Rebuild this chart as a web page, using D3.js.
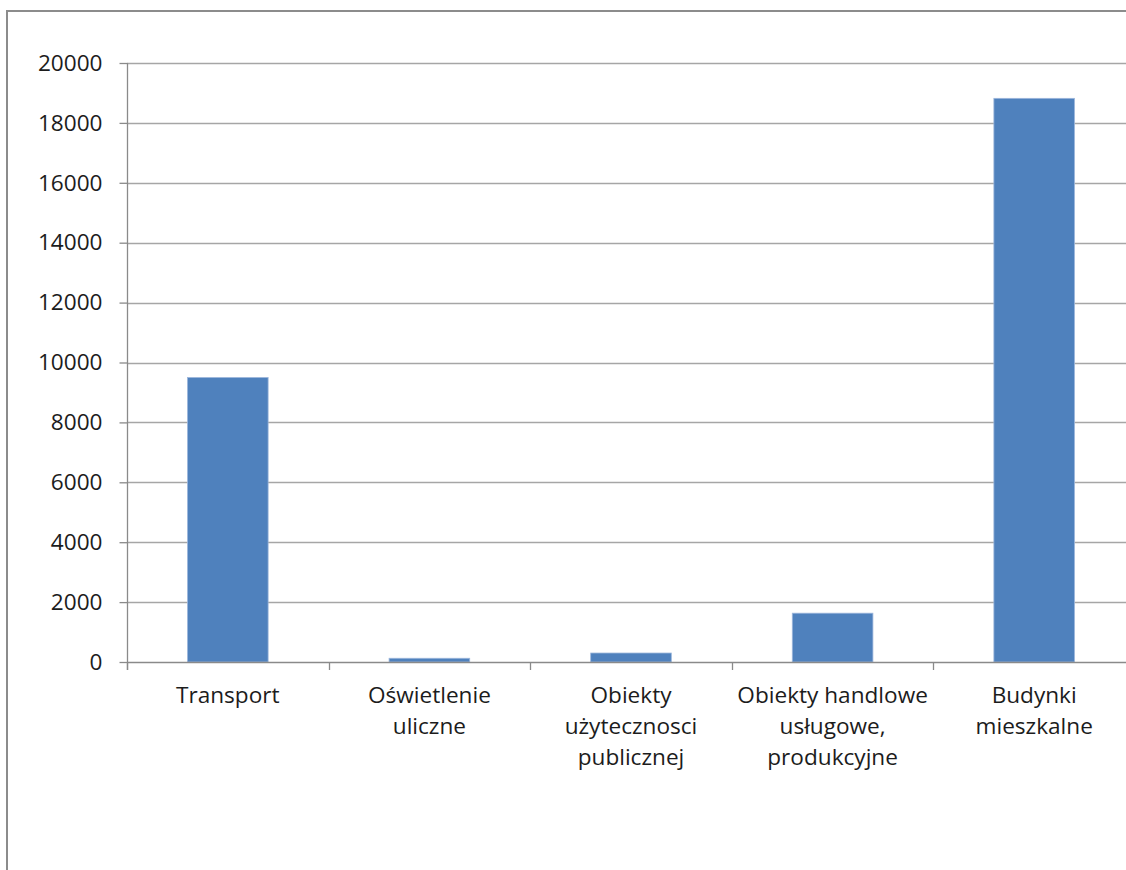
<!DOCTYPE html>
<html>
<head>
<meta charset="utf-8">
<script src="https://cdn.jsdelivr.net/npm/d3@7"></script>
<style>
  html, body { margin: 0; padding: 0; background: #fff; overflow: hidden; }
  svg { display: block; }
  text { font-family: "Open Sans", "Liberation Sans", sans-serif; fill: #1c1c1c; }
</style>
</head>
<body>
<svg id="chart" width="1126" height="870"></svg>
<script>
// Category labels, one entry per wrapped line
const categoryLines = [
  ["Transport"],
  ["Oświetlenie", "uliczne"],
  ["Obiekty", "użytecznosci", "publicznej"],
  ["Obiekty handlowe", "usługowe,", "produkcyjne"],
  ["Budynki", "mieszkalne"]
];
const categories = categoryLines.map(l => l.join(" "));
const values = [9500, 125, 300, 1630, 18820];
const yTicks = [0, 2000, 4000, 6000, 8000, 10000, 12000, 14000, 16000, 18000, 20000];

const svg = d3.select("#chart");
const fontSize = 22.6;

// Chart area frame
svg.append("rect")
  .attr("x", 7).attr("y", 11)
  .attr("width", 1200).attr("height", 900)
  .attr("fill", "#fff")
  .attr("stroke", "#8c8c8c")
  .attr("stroke-width", 2);

const plotLeft = 127, plotRight = 1135, plotTop = 63, plotBottom = 662;

const x = d3.scaleBand()
  .domain(categories)
  .range([plotLeft, plotRight])
  .paddingInner(0.6)
  .paddingOuter(0.3);

const y = d3.scaleLinear()
  .domain([0, 20000])
  .range([plotBottom, plotTop]);

// Horizontal gridlines
svg.append("g")
  .selectAll("line")
  .data(yTicks.filter(t => t > 0))
  .join("line")
  .attr("x1", plotLeft).attr("x2", plotRight)
  .attr("y1", d => Math.round(y(d)) + 0.5)
  .attr("y2", d => Math.round(y(d)) + 0.5)
  .attr("stroke", "#a6a6a6")
  .attr("stroke-width", 1.3);

// Bars
svg.append("g")
  .selectAll("rect")
  .data(values)
  .join("rect")
  .attr("x", (d, i) => x(categories[i]))
  .attr("y", d => y(d))
  .attr("width", x.bandwidth())
  .attr("height", d => plotBottom - y(d))
  .attr("fill", "#4f81bd")
  .attr("stroke", "#9db7dc")
  .attr("stroke-width", 0.8);

// Y axis
const yAxis = d3.axisLeft(y)
  .tickValues(yTicks)
  .tickSize(8)
  .tickPadding(17)
  .tickFormat(d3.format("d"));
const gy = svg.append("g")
  .attr("transform", `translate(${plotLeft + 0.5},0)`)
  .call(yAxis);
gy.select(".domain")
  .attr("d", `M0,${plotTop}V${plotBottom + 8}`)
  .attr("stroke", "#8a8a8a")
  .attr("stroke-width", 1.3);
gy.selectAll(".tick line").attr("stroke", "#8a8a8a").attr("stroke-width", 1.3);
gy.selectAll(".tick text")
  .attr("font-size", fontSize)
  .style("font-family", '"Open Sans", "Liberation Sans", sans-serif')
  .attr("fill", "#1c1c1c");

// X axis baseline and category boundary ticks
const step = x.step();
const boundaries = d3.range(categories.length + 1).map(i =>
  i < categories.length ? x(categories[i]) - step * x.paddingOuter() : x(categories[i - 1]) + x.bandwidth() + step * x.paddingOuter());
svg.append("line")
  .attr("x1", plotLeft).attr("x2", plotRight)
  .attr("y1", plotBottom + 0.5).attr("y2", plotBottom + 0.5)
  .attr("stroke", "#8a8a8a")
  .attr("stroke-width", 1.3);
svg.append("g")
  .selectAll("line")
  .data(boundaries)
  .join("line")
  .attr("x1", d => Math.round(d) + 0.5).attr("x2", d => Math.round(d) + 0.5)
  .attr("y1", plotBottom).attr("y2", plotBottom + 8)
  .attr("stroke", "#8a8a8a")
  .attr("stroke-width", 1.3);

// Category labels
const lineHeight = 31;
svg.append("g")
  .selectAll("text")
  .data(categoryLines)
  .join("text")
  .attr("text-anchor", "middle")
  .attr("font-size", fontSize)
  .attr("y", 703)
  .each(function (lines, i) {
    const cx = x(categories[i]) + x.bandwidth() / 2;
    d3.select(this).selectAll("tspan")
      .data(lines)
      .join("tspan")
      .attr("x", cx)
      .attr("dy", (d, j) => j === 0 ? 0 : lineHeight)
      .text(d => d);
  });
</script>
</body>
</html>
